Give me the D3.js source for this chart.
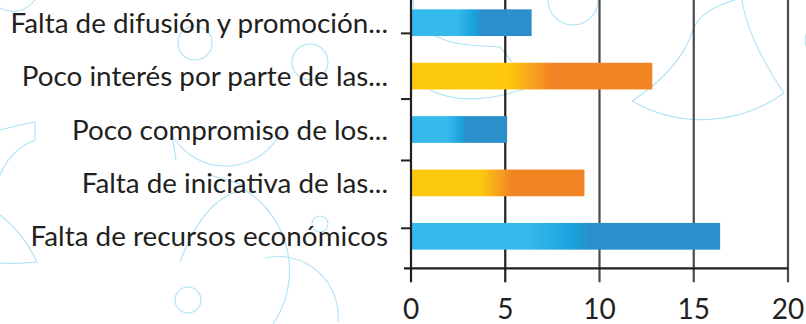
<!DOCTYPE html>
<html>
<head>
<meta charset="utf-8">
<script src="https://cdn.jsdelivr.net/npm/d3@7/dist/d3.min.js"></script>
<style>
  html, body { margin: 0; padding: 0; background: #fff; }
  svg { display: block; }
  text { font-family: "Lato", "Open Sans", sans-serif; fill: #231f20; }
</style>
</head>
<body>
<svg id="chart" width="806" height="324"></svg>
<script>
// Categories, top to bottom
const categories = [
  "Falta de difusión y promoción...",
  "Poco interés por parte de las...",
  "Poco compromiso de los...",
  "Falta de iniciativa de las...",
  "Falta de recursos económicos"
];
const values = [6.4, 12.8, 5.1, 9.2, 16.4];
const palettes = ["blue", "orange", "blue", "orange", "blue"];
const xTicks = [0, 5, 10, 15, 20];
// Y-axis tick marks, in band steps from the first band centre
const yTickSteps = [0.2, 1.43, 2.58, 3.85, 4.6];

const svg = d3.select("#chart");

// Faint decorative outlines in the background
const deco = svg.append("g")
  .attr("fill", "none")
  .attr("stroke", "#aee2f6")
  .attr("stroke-width", 1.1);
const circles = [
  [188, 300, 13], [195, 43, 17], [310, 62, 18], [320, 224, 8],
  [573, 0, 25], [820, 40, 15]
];
deco.selectAll("circle").data(circles).join("circle")
  .attr("cx", d => d[0]).attr("cy", d => d[1]).attr("r", d => d[2]);
const arcPaths = [
  // fan shape on the right
  "M632,101 A140,140 0 0,0 784,93 Q748,40 742,0",
  "M632,101 Q680,70 693,30 Q700,10 735,0",
  // large circle pieces, lower middle
  "M265,258 A60,60 0 0,1 338,322",
  "M245,190 A95,95 0 0,1 273,324",
  "M180,262 Q205,195 245,190",
  "M172,135 A62,62 0 0,0 282,130",
  "M172,135 L176,160",
  "M210,175 L243,185",
  // pieces on the left
  "M0,130 Q18,125 35,122 L35,140 Q10,150 0,175",
  "M0,215 Q25,235 37,262 Q15,264 0,263",
  "M0,8 Q20,18 35,0",
  // arcs near the top of the plot
  "M413,0 Q415,40 470,45 L500,47 L512,62",
  "M430,90 Q470,110 535,85"
];
deco.selectAll("path").data(arcPaths).join("path").attr("d", d => d);

const x = d3.scaleLinear().domain([0, 20]).range([411, 788]);
const y = d3.scaleBand().domain(categories).range([-4, 263])
  .paddingInner(0.5).paddingOuter(0.25);
const yStep = d3.scaleLinear().domain([0, 1])
  .range([y(categories[0]) + y.bandwidth() / 2, y(categories[1]) + y.bandwidth() / 2]);
const axisY = yStep(yTickSteps[yTickSteps.length - 1]);

// Gradients
const defs = svg.append("defs");
const gradStops = {
  blue: [[0, "#35baec"], [0.38, "#35baec"], [0.52, "#1aa2dc"], [0.58, "#2a8fcb"], [1, "#2a8fcb"]],
  orange: [[0, "#fdc90c"], [0.4, "#fdc90c"], [0.5, "#f6a31f"], [0.58, "#f28523"], [1, "#f28523"]]
};
Object.entries(gradStops).forEach(([k, stops]) => {
  const g = defs.append("linearGradient").attr("id", "grad-" + k)
    .attr("x1", 0).attr("x2", 1).attr("y1", 0).attr("y2", 0);
  stops.forEach(s => g.append("stop").attr("offset", s[0]).attr("stop-color", s[1]));
});

// Vertical grid lines
svg.append("g").selectAll("line").data(xTicks.slice(1)).join("line")
  .attr("x1", d => x(d)).attr("x2", d => x(d))
  .attr("y1", 0).attr("y2", axisY + 14)
  .attr("stroke", (d, i) => i === 0 ? "#231f20" : "#4a4a4a")
  .attr("stroke-width", 2.2);

// Bars
svg.append("g").selectAll("rect").data(categories).join("rect")
  .attr("x", x(0))
  .attr("y", d => y(d))
  .attr("height", y.bandwidth())
  .attr("width", (d, i) => x(values[i]) - x(0))
  .attr("fill", (d, i) => `url(#grad-${palettes[i]})`);

// Y axis line and ticks
svg.append("line").attr("x1", x(0)).attr("x2", x(0))
  .attr("y1", 0).attr("y2", axisY + 14)
  .attr("stroke", "#231f20").attr("stroke-width", 2.2);
svg.append("g").selectAll("line").data(yTickSteps.slice(0, -1)).join("line")
  .attr("x1", x(0) - 10).attr("x2", x(0))
  .attr("y1", d => yStep(d)).attr("y2", d => yStep(d))
  .attr("stroke", "#231f20").attr("stroke-width", 2);

// X axis line
svg.append("line").attr("x1", x(0) - 7).attr("x2", x(20))
  .attr("y1", axisY).attr("y2", axisY)
  .attr("stroke", "#231f20").attr("stroke-width", 2.2);

// Category labels
svg.append("g").selectAll("text").data(categories).join("text")
  .attr("x", 388)
  .attr("y", d => y(d) + y.bandwidth() / 2 + 10)
  .attr("text-anchor", "end")
  .attr("font-size", 27.8)
  .text(d => d);

// X tick labels
svg.append("g").selectAll("text").data(xTicks).join("text")
  .attr("x", d => x(d))
  .attr("y", 319)
  .attr("text-anchor", "middle")
  .attr("font-size", 28)
  .text(d => d);
</script>
</body>
</html>
